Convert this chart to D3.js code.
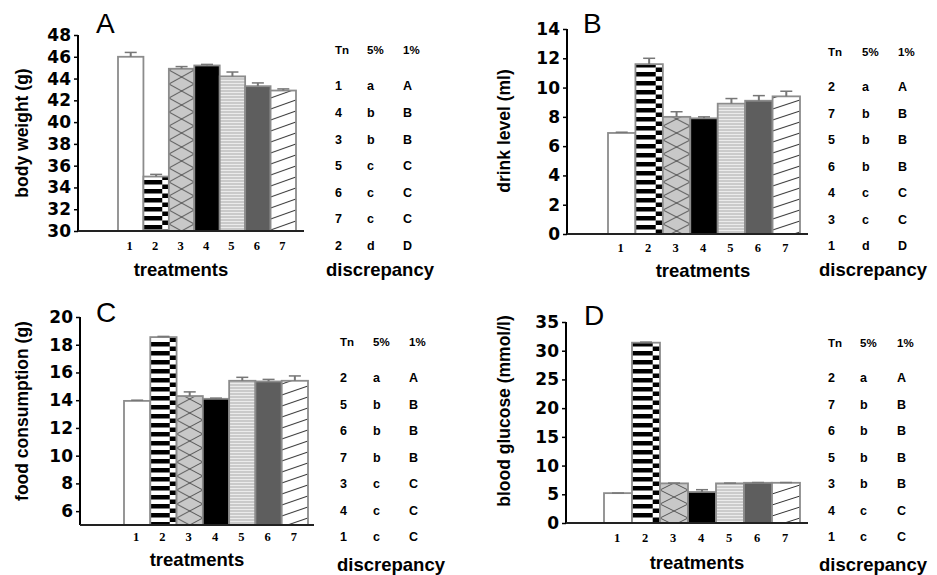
<!DOCTYPE html>
<html>
<head>
<meta charset="utf-8">
<script src="https://cdn.jsdelivr.net/npm/d3@7"></script>
<style>
  body { margin: 0; background: #fff; }
  svg { display: block; font-family: "Liberation Sans", Arial, sans-serif; }
  .tick-lab { font-family: "DejaVu Sans", sans-serif; font-size: 17px; font-weight: bold; }
  .ytitle { font-size: 17.5px; font-weight: bold; }
  .xtitle { font-size: 18.5px; font-weight: bold; }
  .disc { font-size: 18.5px; font-weight: bold; }
  .cat { font-family: "Liberation Serif", "Times New Roman", serif; font-size: 12.5px; font-weight: bold; }
  .tbl { font-size: 12.5px; font-weight: bold; }
  .tblh { font-size: 11.5px; font-weight: bold; }
  .letter { font-size: 28px; }
</style>
</head>
<body>
<svg id="chart" width="937" height="575"></svg>
<script>
// treatments 1..7
const treatments = ['1', '2', '3', '4', '5', '6', '7'];

// A: body weight (g)
const bodyWeight = [46.0, 35.0, 44.9, 45.2, 44.2, 43.3, 42.9];
const bodyWeightErr = [0.4, 0.2, 0.2, 0.1, 0.4, 0.3, 0.15];
const bodyWeightTicks = [30, 32, 34, 36, 38, 40, 42, 44, 46, 48];

// B: drink level (ml)
const drinkLevel = [6.9, 11.6, 8.0, 7.9, 8.9, 9.1, 9.4];
const drinkLevelErr = [0.05, 0.4, 0.35, 0.1, 0.35, 0.35, 0.35];
const drinkTicks = [0, 2, 4, 6, 8, 10, 12, 14];

// C: food consumption (g)
const foodConsumption = [13.95, 18.55, 14.3, 14.1, 15.4, 15.35, 15.4];
const foodErr = [0.05, 0.05, 0.3, 0.05, 0.25, 0.15, 0.35];
const foodTicks = [6, 8, 10, 12, 14, 16, 18, 20];

// D: blood glucose (mmol/l)
const bloodGlucose = [5.2, 31.4, 6.9, 5.4, 6.9, 7.0, 7.0];
const glucoseErr = [0.02, 0.1, 0.05, 0.4, 0.05, 0.05, 0.05];
const glucoseTicks = [0, 5, 10, 15, 20, 25, 30, 35];

// multiple comparison tables: Tn, 5%, 1%
const tableHeader = ['Tn', '5%', '1%'];
const tableA = [['1','a','A'],['4','b','B'],['3','b','B'],['5','c','C'],['6','c','C'],['7','c','C'],['2','d','D']];
const tableB = [['2','a','A'],['7','b','B'],['5','b','B'],['6','b','B'],['4','c','C'],['3','c','C'],['1','d','D']];
const tableC = [['2','a','A'],['5','b','B'],['6','b','B'],['7','b','B'],['3','c','C'],['4','c','C'],['1','c','C']];
const tableD = [['2','a','A'],['7','b','B'],['6','b','B'],['5','b','B'],['3','b','B'],['4','c','C'],['1','c','C']];

const svg = d3.select('#chart');
const defs = svg.append('defs');

const panels = [
  { id: 'A', values: bodyWeight, errs: bodyWeightErr, ticks: bodyWeightTicks, domain: [30, 48],
    title: 'body weight (g)', table: tableA,
    axisX: 78, yBottom: 231, yTop: 35, barL: 118, barR: 296, axisEnd: 304,
    letterX: 96, letterY: 33, titleX: 22, titleY: 133, catY: 246, xTitleX: 181, xTitleY: 276,
    tblX: [335, 367, 403], tblHeadY: 50, tblY0: 86, tblStep: 26.6, discX: 380, discY: 276 },
  { id: 'B', values: drinkLevel, errs: drinkLevelErr, ticks: drinkTicks, domain: [0, 14],
    title: 'drink level (ml)', table: tableB,
    axisX: 567, yBottom: 234, yTop: 29, barL: 608, barR: 800, axisEnd: 808,
    letterX: 583, letterY: 33, titleX: 504, titleY: 131, catY: 248, xTitleX: 703, xTitleY: 277,
    tblX: [828, 862, 898], tblHeadY: 52, tblY0: 87, tblStep: 26.5, discX: 873, discY: 276 },
  { id: 'C', values: foodConsumption, errs: foodErr, ticks: foodTicks, domain: [5, 20],
    title: 'food consumption (g)', table: tableC,
    axisX: 80, yBottom: 525, yTop: 317, barL: 124, barR: 308, axisEnd: 314,
    letterX: 96, letterY: 322, titleX: 22, titleY: 411, catY: 537, xTitleX: 197, xTitleY: 566,
    tblX: [340, 373, 409], tblHeadY: 342, tblY0: 378, tblStep: 26.5, discX: 391, discY: 571 },
  { id: 'D', values: bloodGlucose, errs: glucoseErr, ticks: glucoseTicks, domain: [0, 35],
    title: 'blood glucose (mmol/l)', table: tableD,
    axisX: 566, yBottom: 523, yTop: 322, barL: 604, barR: 800, axisEnd: 808,
    letterX: 584, letterY: 325, titleX: 504, titleY: 411, catY: 538, xTitleX: 697, xTitleY: 569,
    tblX: [828, 860, 897], tblHeadY: 343, tblY0: 378, tblStep: 26.5, discX: 873, discY: 571 }
];

// build fill patterns per panel, aligned to each bar's left edge
function makePatterns(p, x) {
  const w = x.bandwidth();
  const fills = [];
  treatments.forEach((t, i) => {
    const x0 = x(t);
    const id = 'pat-' + p.id + '-' + t;
    if (t === '1') { fills.push('#fff'); return; }
    if (t === '4') { fills.push('#000'); return; }
    if (t === '6') { fills.push('#5e5e5e'); return; }
    let pat;
    if (t === '2') {
      pat = defs.append('pattern').attr('id', id).attr('patternUnits', 'userSpaceOnUse')
        .attr('x', x0).attr('y', 0).attr('width', w).attr('height', 9);
      pat.append('rect').attr('width', w).attr('height', 9).attr('fill', '#fff');
      pat.append('rect').attr('x', 0).attr('y', 0).attr('width', w * 0.74).attr('height', 4.5).attr('fill', '#000');
      pat.append('rect').attr('x', w * 0.74).attr('y', 4.5).attr('width', w * 0.26).attr('height', 4.5).attr('fill', '#000');
    } else if (t === '3') {
      pat = defs.append('pattern').attr('id', id).attr('patternUnits', 'userSpaceOnUse')
        .attr('x', x0).attr('y', 0).attr('width', w).attr('height', 14);
      pat.append('rect').attr('width', w).attr('height', 14).attr('fill', '#c8c8c8');
      pat.append('line').attr('x1', 0).attr('y1', 0).attr('x2', w).attr('y2', 14).attr('stroke', '#555').attr('stroke-width', 1);
      pat.append('line').attr('x1', 0).attr('y1', 14).attr('x2', w).attr('y2', 0).attr('stroke', '#555').attr('stroke-width', 1);
    } else if (t === '5') {
      pat = defs.append('pattern').attr('id', id).attr('patternUnits', 'userSpaceOnUse')
        .attr('x', x0).attr('y', 0).attr('width', w).attr('height', 3);
      pat.append('rect').attr('width', w).attr('height', 3).attr('fill', '#ebebeb');
      pat.append('line').attr('x1', 0).attr('y1', 1).attr('x2', w).attr('y2', 1).attr('stroke', '#9a9a9a').attr('stroke-width', 0.8);
    } else if (t === '7') {
      pat = defs.append('pattern').attr('id', id).attr('patternUnits', 'userSpaceOnUse')
        .attr('x', x0).attr('y', 0).attr('width', w).attr('height', 11);
      pat.append('rect').attr('width', w).attr('height', 11).attr('fill', '#fff');
      pat.append('line').attr('x1', 0).attr('y1', 10).attr('x2', w).attr('y2', 1).attr('stroke', '#333').attr('stroke-width', 1);
    }
    fills.push('url(#' + id + ')');
  });
  return fills;
}

panels.forEach(p => {
  const g = svg.append('g');
  const x = d3.scaleBand().domain(treatments).range([p.barL, p.barR]).padding(0);
  const y = d3.scaleLinear().domain(p.domain).range([p.yBottom, p.yTop]);
  const fills = makePatterns(p, x);

  // bars
  g.selectAll('rect.bar').data(p.values).enter().append('rect')
    .attr('class', 'bar')
    .attr('x', (d, i) => x(treatments[i]))
    .attr('y', d => y(d))
    .attr('width', x.bandwidth())
    .attr('height', d => y(p.domain[0]) - y(d))
    .attr('fill', (d, i) => fills[i])
    .attr('stroke', '#8c8c8c')
    .attr('stroke-width', 1.8);

  // error bars
  const eb = g.selectAll('g.err').data(p.values).enter().append('g').attr('class', 'err');
  eb.append('line')
    .attr('x1', (d, i) => x(treatments[i]) + x.bandwidth() / 2)
    .attr('x2', (d, i) => x(treatments[i]) + x.bandwidth() / 2)
    .attr('y1', d => y(d))
    .attr('y2', (d, i) => y(d + p.errs[i]))
    .attr('stroke', '#777').attr('stroke-width', 2);
  eb.append('line')
    .attr('x1', (d, i) => x(treatments[i]) + x.bandwidth() / 2 - 6)
    .attr('x2', (d, i) => x(treatments[i]) + x.bandwidth() / 2 + 6)
    .attr('y1', (d, i) => y(d + p.errs[i]))
    .attr('y2', (d, i) => y(d + p.errs[i]))
    .attr('stroke', '#777').attr('stroke-width', 1.5);

  // y axis
  const yAxis = d3.axisLeft(y).tickValues(p.ticks).tickSize(4).tickPadding(3).tickFormat(d3.format('d'));
  const ya = g.append('g').attr('transform', `translate(${p.axisX},0)`).call(yAxis);
  ya.select('.domain').remove();
  ya.selectAll('.tick line').attr('stroke', '#000').attr('stroke-width', 1.5);
  ya.selectAll('.tick text').attr('class', 'tick-lab').attr('fill', '#000');
  g.append('line').attr('x1', p.axisX).attr('x2', p.axisX).attr('y1', y(p.domain[1]))
    .attr('y2', p.yBottom).attr('stroke', '#000').attr('stroke-width', 2);
  g.append('line').attr('x1', p.axisX).attr('x2', p.axisEnd).attr('y1', p.yBottom)
    .attr('y2', p.yBottom).attr('stroke', '#222').attr('stroke-width', 2);

  // category labels
  g.selectAll('text.cat').data(treatments).enter().append('text')
    .attr('class', 'cat')
    .attr('x', d => x(d) + x.bandwidth() / 2 - 1)
    .attr('y', p.catY).attr('dy', '0.35em')
    .attr('text-anchor', 'middle')
    .text(d => d);

  // titles
  g.append('text').attr('class', 'xtitle').attr('x', p.xTitleX).attr('y', p.xTitleY)
    .attr('text-anchor', 'middle').text('treatments');
  g.append('text').attr('class', 'ytitle')
    .attr('transform', `translate(${p.titleX},${p.titleY}) rotate(-90)`)
    .attr('text-anchor', 'middle').attr('dy', '0.35em').text(p.title);
  g.append('text').attr('class', 'letter').attr('x', p.letterX).attr('y', p.letterY).text(p.id);

  // significance table
  tableHeader.forEach((h, j) => {
    g.append('text').attr('class', 'tblh').attr('x', p.tblX[j]).attr('y', p.tblHeadY)
      .attr('dy', '0.35em').text(h);
  });
  p.table.forEach((row, r) => {
    row.forEach((cell, j) => {
      g.append('text').attr('class', 'tbl').attr('x', p.tblX[j])
        .attr('y', p.tblY0 + r * p.tblStep).attr('dy', '0.35em').text(cell);
    });
  });
  g.append('text').attr('class', 'disc').attr('x', p.discX).attr('y', p.discY)
    .attr('text-anchor', 'middle').text('discrepancy');
});
</script>
</body>
</html>
